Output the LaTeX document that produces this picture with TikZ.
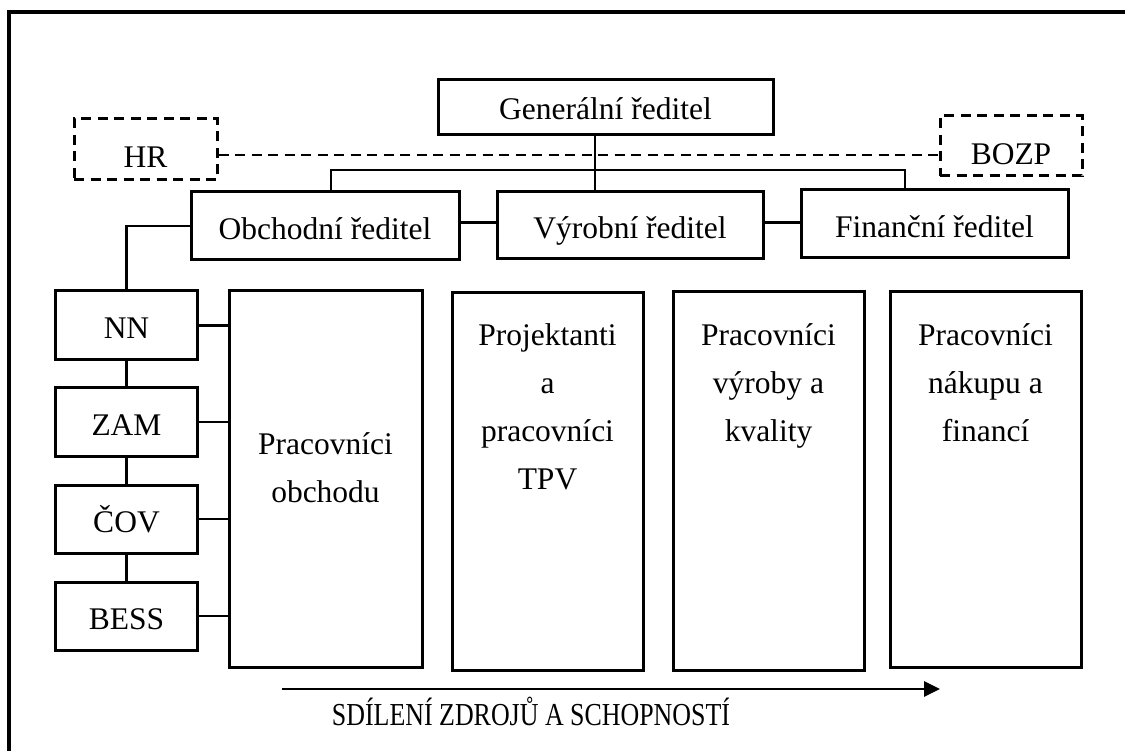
\documentclass[tikz,border=0pt]{standalone}
\usepackage{fontspec}
\setmainfont{Liberation Serif}
\usetikzlibrary{arrows.meta}
\begin{document}
\begin{tikzpicture}[x=1pt,y=-1pt,
  box/.style={draw, line width=3pt, inner sep=0pt, font=\fontsize{31.5}{48}\selectfont, text height=27pt, text depth=0pt},
  dbox/.style={box, dash pattern=on 10pt off 6.5pt, text height=37pt},
  conn/.style={line width=2.7pt},
  lbl/.style={font=\fontsize{31.5}{48}\selectfont, align=center, inner sep=0pt}]
\clip (0,0) rectangle (1125,751);
\fill[white] (0,0) rectangle (1125,751);
% outer frame (cut by the image edges)
\draw[line width=3.3pt] (9,770) -- (9,12) -- (1140,12);

% top level
\node[box, minimum width=335pt, minimum height=55pt, text height=24pt] (gen) at (605.5,107.5) {Generální ředitel};
\node[dbox, minimum width=143pt, minimum height=61pt] (hr) at (145.5,149.5) {HR};
\node[dbox, minimum width=142pt, minimum height=60pt] (bozp) at (1011,146) {BOZP};

% directors
\node[box, minimum width=268pt, minimum height=68pt] (obch) at (325,226) {Obchodní ředitel};
\node[box, minimum width=266pt, minimum height=67pt] (vyr) at (630,225.5) {Výrobní ředitel};
\node[box, minimum width=267pt, minimum height=68pt] (fin) at (934.5,224) {Finanční ředitel};

% small boxes
\node[box, minimum width=142pt, minimum height=69pt] (nn) at (126.5,325.5) {NN};
\node[box, minimum width=142pt, minimum height=68pt] (zam) at (126.5,422) {ZAM};
\node[box, minimum width=142pt, minimum height=68pt] (cov) at (126.5,519) {ČOV};
\node[box, minimum width=142pt, minimum height=68pt] (bess) at (126.5,616) {BESS};

% big boxes
\node[box, minimum width=193pt, minimum height=376pt] (b1) at (325.5,479) {};
\node[box, minimum width=191pt, minimum height=377pt] (b2) at (547.5,481.5) {};
\node[box, minimum width=191pt, minimum height=378pt] (b3) at (768.5,481) {};
\node[box, minimum width=191pt, minimum height=375pt] (b4) at (985.5,479.5) {};

\node[lbl, anchor=north] (t1) at (b1.north |- 0,429) {\rule{0pt}{25pt}Pracovníci\\obchodu};
\node[lbl, anchor=north] (t2) at (b2.north |- 0,320) {\rule{0pt}{25pt}Projektanti\\a\\pracovníci\\TPV};
\node[lbl, anchor=north] (t3) at (b3.north |- 0,320) {\rule{0pt}{25pt}Pracovníci\\výroby a\\kvality};
\node[lbl, anchor=north] (t4) at (b4.north |- 0,320) {\rule{0pt}{25pt}Pracovníci\\nákupu a\\financí};

% helper coordinates
\coordinate (bus) at (595,170);
\coordinate (dl) at (595,155);
\coordinate (hl) at (0,222.5);
\coordinate (a0) at (282,689);
\coordinate (a1) at (940,689);

% connectors
\draw[conn, dash pattern=on 10pt off 6.5pt] (hr.east |- dl) -- (bozp.west |- dl);
\draw[conn] (gen.south -| bus) -- (vyr.north -| bus);
\draw[conn] (obch.north -| 331,0) |- (bus) -| (fin.north -| 905,0);
\draw[conn] (obch.east |- hl) -- (vyr.west |- hl);
\draw[conn] (vyr.east |- hl) -- (fin.west |- hl);
\draw[conn] (obch.west) -| (nn.north);
\draw[conn] (nn.south) -- (zam.north);
\draw[conn] (zam.south) -- (cov.north);
\draw[conn] (cov.south) -- (bess.north);
\draw[conn] (nn.east) -- (nn.east -| b1.west);
\draw[conn] (zam.east) -- (zam.east -| b1.west);
\draw[conn] (cov.east) -- (cov.east -| b1.west);
\draw[conn] (bess.east) -- (bess.east -| b1.west);

% sharing arrow
\draw[conn, -{Triangle[length=16pt,width=15pt]}] (a0) -- (a1);
\node[anchor=base, inner sep=0pt, font=\fontsize{32}{38}\selectfont] (share) at (531,725) {\scalebox{0.81}[1]{SDÍLENÍ ZDROJŮ A SCHOPNOSTÍ}};
\end{tikzpicture}
\end{document}
